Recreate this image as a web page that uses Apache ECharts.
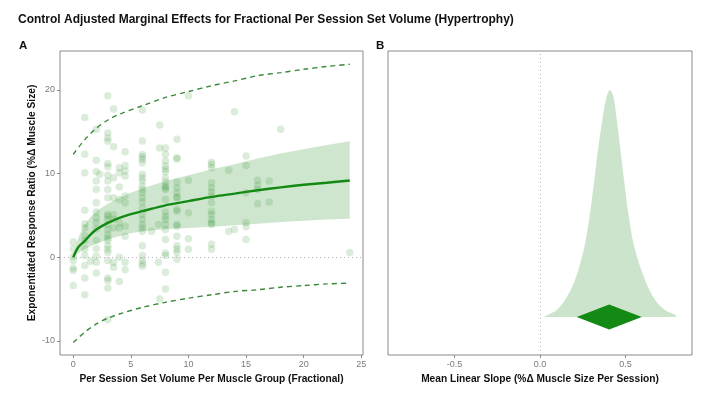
<!DOCTYPE html>
<html>
<head>
<meta charset="utf-8">
<script src="https://cdn.jsdelivr.net/npm/echarts@6/dist/echarts.min.js"></script>
<style>html,body{margin:0;padding:0;background:#fff}#chart{width:709px;height:393px}</style>
</head>
<body>
<div id="chart"></div>
<script>
// ---------- Data ----------
const titleText = 'Control Adjusted Marginal Effects for Fractional Per Session Set Volume (Hypertrophy)';
const xTitleA = 'Per Session Set Volume Per Muscle Group (Fractional)';
const yTitleA = 'Exponentiated Response Ratio (%\u0394 Muscle Size)';
const xTitleB = 'Mean Linear Slope (%\u0394 Muscle Size Per Session)';
const xTicksA = [0, 5, 10, 15, 20, 25];
const yTicksA = [-10, 0, 10, 20];
const xTicksB = [-0.5, 0.0, 0.5];

// observed effect sizes grouped by set volume
const obsGroups = [
  [0, [1.8, 1.0, 0.1, -0.4, -1.3, -1.6, -3.4]],
  [1, [16.7, 12.3, 10.1, 5.6, 4.0, 3.5, 2.6, 2.0, 1.0, 0.2, -1.0, -2.5, -4.5]],
  [1.5, [-0.5]],
  [2, [15.3, 11.6, 10.2, 9.1, 8.1, 6.5, 5.4, 4.7, 4.1, 3.4, 2.0, 1.0, 0.1, -0.6, -1.9]],
  [2.3, [9.9]],
  [3, [19.3, 14.85, 14.25, 13.85, 11.2, 10.8, 9.8, 9.1, 8.1, 7.1, 5.1, 4.9, 4.5, 3.9, 3.3, 2.7, 2.3, 2.0, 1.35, 0.95, 0.55, -0.4, -2.5, -2.8, -3.7, -7.5]],
  [3.5, [17.7, 13.2, 9.5, 7.1, 5.1, 4.5, 3.5, -0.6, -1.2]],
  [4, [10.7, 10.1, 8.4, 6.9, 4.1, 3.5, 0.0, -2.9]],
  [4.5, [12.6, 10.95, 10.3, 9.7, 7.3, 6.5, 3.7, 2.5, -0.6, -1.5]],
  [6, [17.6, 13.9, 12.26, 12.0, 11.7, 11.3, 9.9, 9.5, 9.1, 8.5, 8.1, 7.7, 7.1, 6.6, 5.9, 5.1, 4.5, 3.9, 3.5, 3.1, 1.35, 0.2, -0.4, -0.8, -1.1]],
  [6.8, [3.1]],
  [7.4, [-0.6, 3.9]],
  [7.5, [15.8, 13.05, -5.0]],
  [8, [13.05, 12.3, 11.5, 10.9, 10.5, 10.2, 9.5, 9.0, 8.5, 8.3, 8.1, 6.9, 5.4, 4.9, 4.5, 3.9, 3.3, 2.1, 0.5, 0.2, -1.8, -3.8]],
  [9, [14.1, 11.9, 11.75, 9.0, 8.3, 7.7, 7.2, 7.1, 5.7, 5.5, 3.9, 3.7, 2.5, 1.35, 0.95, 0.55, -0.24]],
  [10, [19.3, 9.2, 5.3, 2.2, 0.95]],
  [12, [11.35, 11.07, 10.7, 8.9, 8.3, 7.8, 7.3, 6.5, 5.5, 5.1, 4.5, 4.1, 3.9, 1.55, 0.95]],
  [13.5, [10.4, 3.1]],
  [14, [17.4, 3.3]],
  [15, [12.1, 10.95, 7.7, 4.1, 3.65, 2.1]],
  [16, [9.2, 8.6, 8.1, 6.4]],
  [17, [9.1, 6.6]],
  [18, [15.3]],
  [24, [0.55]]
];

// fitted marginal effect and confidence band
const fitX  = [0, 0.25, 0.5, 1, 1.5, 2, 3, 4, 5, 6, 8, 10, 12, 14, 16, 18, 20, 22, 24];
const fitY  = [0, 0.75, 1.3, 1.95, 2.7, 3.3, 4.1, 4.7, 5.15, 5.5, 6.2, 6.7, 7.2, 7.6, 8.0, 8.35, 8.65, 8.9, 9.17];
const bandLo = [0, 0.3, 0.55, 0.95, 1.3, 1.6, 2.1, 2.5, 2.85, 3.1, 3.35, 3.5, 3.65, 3.8, 4.0, 4.2, 4.35, 4.5, 4.6];
const bandHi = [0, 1.5, 2.5, 3.9, 4.8, 5.5, 6.4, 7.1, 7.7, 8.2, 9.1, 9.8, 10.5, 11.1, 11.8, 12.4, 12.9, 13.4, 13.85];
// prediction interval
const predX  = [0, 1, 2, 3, 4, 6, 8, 10, 12, 14, 16, 18, 20, 22, 24];
const predHi = [12.3, 14.05, 15.4, 16.4, 17.1, 18.1, 19.1, 19.8, 20.5, 21.07, 21.7, 22.06, 22.46, 22.8, 23.06];
const predLo = [-10.2, -8.97, -7.98, -7.3, -6.8, -6.0, -5.4, -4.9, -4.5, -4.1, -3.9, -3.6, -3.4, -3.2, -3.1];

// posterior density of the mean linear slope (scaled to peak 1)
const densX = [0.02, 0.047, 0.098, 0.146, 0.205, 0.26, 0.293, 0.318, 0.342, 0.371, 0.39, 0.41, 0.43, 0.445, 0.469, 0.492, 0.517, 0.552, 0.615, 0.674, 0.732, 0.79, 0.80];
const densY = [0, 0.01, 0.031, 0.075, 0.163, 0.31, 0.458, 0.604, 0.75, 0.897, 0.97, 1.0, 0.97, 0.897, 0.75, 0.604, 0.458, 0.31, 0.163, 0.075, 0.031, 0.01, 0];
// mean slope and interval [mean, lower, upper]
const slopeSummary = [0.405, 0.215, 0.596];

// ---------- Chart ----------
const FONT = '"Liberation Sans", Arial, Helvetica, sans-serif';
const GREEN = '#138a13';
const obs = [];
obsGroups.forEach(g => g[1].forEach(y => obs.push([g[0], y])));

const chart = echarts.init(document.getElementById('chart'), null, {renderer: 'canvas'});

const axisLabelStyle = {color: '#7a7a7a', fontSize: 9, fontFamily: FONT};
const nameStyle = {color: '#111', fontSize: 10.2, fontWeight: 'bold', fontFamily: FONT};
const tickStyle = {color: '#8a8a8a'};

const option = {
  animation: false,
  backgroundColor: '#fff',
  title: [
    {text: titleText, left: 18, top: 14, padding: 0, textStyle: {fontSize: 12, fontWeight: 'bold', color: '#111', fontFamily: FONT}},
    {text: 'A', left: 19, top: 40, padding: 0, textStyle: {fontSize: 11.5, fontWeight: 'bold', color: '#111', fontFamily: FONT}},
    {text: 'B', left: 376, top: 40, padding: 0, textStyle: {fontSize: 11.5, fontWeight: 'bold', color: '#111', fontFamily: FONT}}
  ],
  grid: [
    {left: 60, top: 51, width: 303, height: 304, show: true, borderColor: '#8a8a8a', borderWidth: 1, backgroundColor: 'transparent'},
    {left: 388, top: 51, width: 304, height: 304, show: true, borderColor: '#8a8a8a', borderWidth: 1, backgroundColor: 'transparent'}
  ],
  xAxis: [
    {type: 'value', gridIndex: 0, min: -1.15, max: 25.15,
     name: xTitleA, nameLocation: 'middle', nameGap: 15, nameTextStyle: nameStyle,
     axisLine: {show: false, onZero: false}, splitLine: {show: false},
     axisTick: {show: true, length: 3, lineStyle: tickStyle, customValues: xTicksA},
     axisLabel: Object.assign({margin: 5, customValues: xTicksA}, axisLabelStyle)},
    {type: 'value', gridIndex: 1, min: -0.89, max: 0.89,
     name: xTitleB, nameLocation: 'middle', nameGap: 15, nameTextStyle: nameStyle,
     axisLine: {show: false, onZero: false}, splitLine: {show: false},
     axisTick: {show: true, length: 3, lineStyle: tickStyle, customValues: xTicksB},
     axisLabel: Object.assign({margin: 5, customValues: xTicksB, formatter: v => v.toFixed(1)}, axisLabelStyle)}
  ],
  yAxis: [
    {type: 'value', gridIndex: 0, min: -11.7, max: 24.65,
     name: yTitleA, nameLocation: 'middle', nameGap: 23, nameTextStyle: nameStyle,
     axisLine: {show: false, onZero: false}, splitLine: {show: false},
     axisTick: {show: true, length: 3, lineStyle: tickStyle, customValues: yTicksA},
     axisLabel: Object.assign({margin: 5, customValues: yTicksA}, axisLabelStyle)},
    {type: 'value', gridIndex: 1, min: -0.167, max: 1.172,
     axisLine: {show: false, onZero: false}, splitLine: {show: false}, axisTick: {show: false}, axisLabel: {show: false}}
  ],
  series: [
    {
      type: 'scatter', xAxisIndex: 0, yAxisIndex: 0, data: obs, symbolSize: 7.5,
      itemStyle: {color: 'rgba(34,139,34,0.2)'}, silent: true, z: 2,
      markLine: {silent: true, symbol: 'none', label: {show: false},
        lineStyle: {type: [1, 3], color: '#b5b5b5', width: 1}, data: [{yAxis: 0}]}
    },
    {
      type: 'custom', xAxisIndex: 0, yAxisIndex: 0, data: [[0, 0]], silent: true, z: 3,
      renderItem: function (params, api) {
        const up = fitX.map((x, i) => api.coord([x, bandHi[i]]));
        const lo = fitX.map((x, i) => api.coord([x, bandLo[i]])).reverse();
        return {type: 'polygon', shape: {points: up.concat(lo)}, style: {fill: 'rgba(34,139,34,0.22)'}};
      }
    },
    {
      type: 'line', xAxisIndex: 0, yAxisIndex: 0, data: fitX.map((x, i) => [x, fitY[i]]),
      smooth: 0.3, symbol: 'none', lineStyle: {color: GREEN, width: 2.4}, z: 4, silent: true
    },
    {
      type: 'line', xAxisIndex: 0, yAxisIndex: 0, data: predX.map((x, i) => [x, predHi[i]]),
      smooth: 0.3, symbol: 'none', lineStyle: {color: '#3b8a3b', width: 1.4, type: [5, 4]}, z: 4, silent: true
    },
    {
      type: 'line', xAxisIndex: 0, yAxisIndex: 0, data: predX.map((x, i) => [x, predLo[i]]),
      smooth: 0.3, symbol: 'none', lineStyle: {color: '#3b8a3b', width: 1.4, type: [5, 4]}, z: 4, silent: true
    },
    {
      type: 'line', xAxisIndex: 1, yAxisIndex: 1, data: densX.map((x, i) => [x, densY[i]]),
      smooth: 0.35, symbol: 'none', lineStyle: {width: 0}, itemStyle: {color: 'rgba(34,139,34,0.22)'},
      areaStyle: {color: 'rgba(34,139,34,0.23)', opacity: 1, origin: 0}, z: 2, silent: true,
      markLine: {silent: true, symbol: 'none', label: {show: false},
        lineStyle: {type: [1, 3], color: '#b5b5b5', width: 1}, data: [{xAxis: 0}]}
    },
    {
      type: 'custom', xAxisIndex: 1, yAxisIndex: 1, data: [slopeSummary], silent: true, z: 5,
      renderItem: function (params, api) {
        const c = api.coord([api.value(0), 0]);
        const l = api.coord([api.value(1), 0]);
        const r = api.coord([api.value(2), 0]);
        const h = 12.5;
        return {type: 'polygon', shape: {points: [l, [c[0], c[1] - h], r, [c[0], c[1] + h]]}, style: {fill: GREEN}};
      }
    }
  ]
};
chart.setOption(option);
</script>
</body>
</html>
